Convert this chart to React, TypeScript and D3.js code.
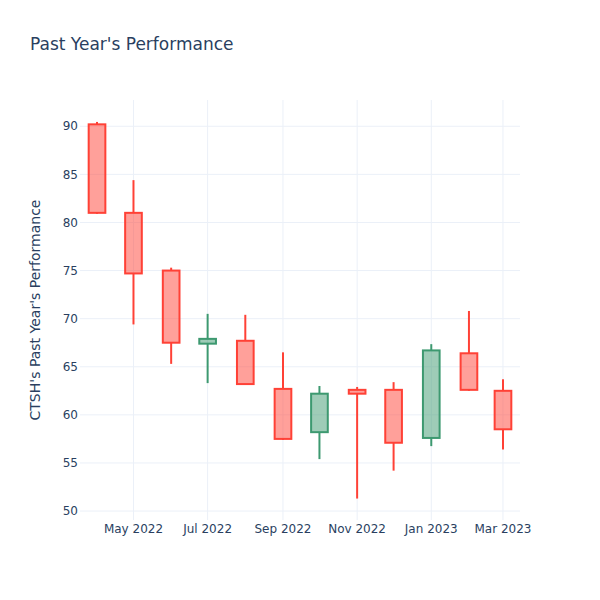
import React from "react";
import * as d3 from "d3";

const dates = ["2022-04-01","2022-05-01","2022-06-01","2022-07-01","2022-08-01","2022-09-01","2022-10-01","2022-11-01","2022-12-01","2023-01-01","2023-02-01","2023-03-01"];
const opens = [90.2, 81.0, 75.0, 67.4, 67.7, 62.7, 58.2, 62.6, 62.6, 57.6, 66.4, 62.5];
const highs = [90.45, 84.4, 75.3, 70.5, 70.4, 66.5, 63.0, 62.9, 63.4, 67.35, 70.8, 63.7];
const lows = [80.9, 69.4, 65.3, 63.3, 63.2, 57.4, 55.4, 51.3, 54.2, 56.75, 62.5, 56.4];
const closes = [81.0, 74.7, 67.5, 67.9, 63.2, 57.5, 62.2, 62.2, 57.1, 66.7, 62.6, 58.5];
const yTicks = [50, 55, 60, 65, 70, 75, 80, 85, 90];
const xTickDates = ["2022-05-01","2022-07-01","2022-09-01","2022-11-01","2023-01-01","2023-03-01"];

const W = 600, H = 600;
const L = 80, R = 520, T = 100, B = 520;
const DAY = 86400000;
const FONT = "'DejaVu Sans', 'Open Sans', sans-serif";
const TXT = "#2a3f5f";
const GRID = "#ebf0f8";
const INC = "#3D9970";
const DEC = "#FF4136";

export default function App() {
  const parsed = dates.map((d) => new Date(d + "T00:00:00Z"));
  const x = d3.scaleUtc()
    .domain([new Date(+parsed[0] - 14 * DAY), new Date(+parsed[parsed.length - 1] + 14 * DAY)])
    .range([L, R]);
  const y = d3.scaleLinear().domain([49.07, 92.73]).range([B, T]);
  const fmt = d3.utcFormat("%b %Y");
  const halfW = (x(new Date(+parsed[0] + 6.86 * DAY)) - x(parsed[0]));

  const candles = parsed.map((d, i) => {
    const o = opens[i], c = closes[i], h = highs[i], l = lows[i];
    const inc = c >= o;
    const col = inc ? INC : DEC;
    const cx = x(d);
    const top = y(Math.max(o, c));
    const bot = y(Math.min(o, c));
    return (
      <g key={i}>
        <line x1={cx} x2={cx} y1={y(h)} y2={top} stroke={col} strokeWidth={2} />
        <line x1={cx} x2={cx} y1={bot} y2={y(l)} stroke={col} strokeWidth={2} />
        <rect x={cx - halfW} y={top} width={2 * halfW} height={Math.max(bot - top, 0.5)}
          fill={col} fillOpacity={0.5} stroke={col} strokeWidth={2} />
      </g>
    );
  });

  return (
    <svg width={W} height={H} style={{ display: "block", position: "absolute", left: 0, top: 0 }} fontFamily={FONT}>
      <rect x={0} y={0} width={W} height={H} fill="#fff" />
      {xTickDates.map((d) => {
        const px = x(new Date(d + "T00:00:00Z"));
        return <line key={"xg" + d} x1={px} x2={px} y1={T} y2={B} stroke={GRID} strokeWidth={1} />;
      })}
      {yTicks.map((t) => (
        <line key={"yg" + t} x1={L} x2={R} y1={y(t)} y2={y(t)} stroke={GRID} strokeWidth={1} />
      ))}
      {candles}
      {yTicks.map((t) => (
        <text key={"yt" + t} x={L - 2} y={y(t)} dy="0.35em" textAnchor="end" fontSize={12} fill={TXT}>{t}</text>
      ))}
      {xTickDates.map((d) => {
        const dt = new Date(d + "T00:00:00Z");
        return <text key={"xt" + d} x={x(dt)} y={B + 13} textAnchor="middle" fontSize={12} fill={TXT}>{fmt(dt)}</text>;
      })}
      <text x={30} y={50} fontSize={17} fill={TXT}>Past Year's Performance</text>
      <text transform={`translate(40,${(T + B) / 2}) rotate(-90)`} textAnchor="middle" fontSize={14} fill={TXT}>CTSH's Past Year's Performance</text>
    </svg>
  );
}
